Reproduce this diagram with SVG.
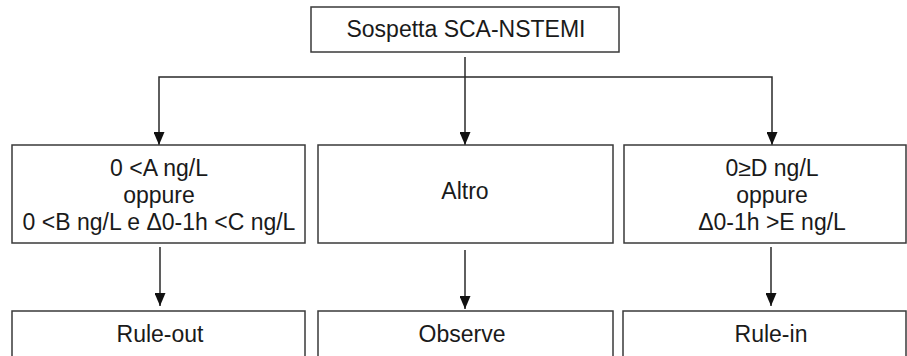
<svg xmlns="http://www.w3.org/2000/svg" width="907" height="356" viewBox="0 0 907 356">
<style>
.box{fill:#fff;stroke:#3a3a3a;stroke-width:1.5}
.t{font-family:"Liberation Sans",Arial,Helvetica,sans-serif;font-size:23px;fill:#1a1a1a;text-anchor:middle}
.c{fill:none;stroke:#2a2a2a;stroke-width:1.5}
</style>
<defs>
<marker id="ah" markerUnits="userSpaceOnUse" markerWidth="13" markerHeight="11" refX="13" refY="5.5" orient="auto">
<path d="M0,0 L13,5.5 L0,11 z" fill="#111"/>
</marker>
</defs>
<rect width="907" height="356" fill="#fff"/>
<g id="connectors">
<path class="c" d="M465,57 V145" marker-end="url(#ah)"/>
<path class="c" d="M465,77 H159 V145" marker-end="url(#ah)"/>
<path class="c" d="M465,77 H772 V145" marker-end="url(#ah)"/>
<path class="c" d="M160,247 V306" marker-end="url(#ah)"/>
<path class="c" d="M465,250 V309" marker-end="url(#ah)"/>
<path class="c" d="M771,247 V306" marker-end="url(#ah)"/>
</g>
<g id="start">
<rect class="box" x="311" y="7" width="308" height="45"/>
<text class="t" x="466" y="37">Sospetta SCA-NSTEMI</text>
</g>
<g id="low">
<rect class="box" x="12" y="145" width="293" height="98"/>
<text class="t" x="159" y="176">0 &lt;A ng/L</text>
<text class="t" x="159" y="203">oppure</text>
<text class="t" x="159" y="230">0 &lt;B ng/L e Δ0-1h &lt;C ng/L</text>
</g>
<g id="other">
<rect class="box" x="318" y="145" width="295" height="98"/>
<text class="t" x="465" y="199">Altro</text>
</g>
<g id="high">
<rect class="box" x="624" y="145" width="282" height="98"/>
<text class="t" x="772" y="176">0≥D ng/L</text>
<text class="t" x="772" y="203">oppure</text>
<text class="t" x="772" y="230">Δ0-1h &gt;E ng/L</text>
</g>
<g id="ruleout">
<rect class="box" x="12" y="311" width="293" height="60"/>
<text class="t" x="160" y="342">Rule-out</text>
</g>
<g id="observe">
<rect class="box" x="318" y="311" width="295" height="60"/>
<text class="t" x="462" y="342">Observe</text>
</g>
<g id="rulein">
<rect class="box" x="623" y="311" width="283" height="60"/>
<text class="t" x="771" y="342">Rule-in</text>
</g>
</svg>
